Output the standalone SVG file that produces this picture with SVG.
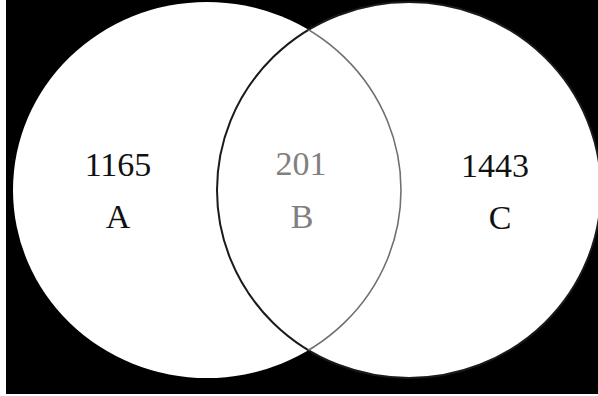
<svg xmlns="http://www.w3.org/2000/svg" width="598" height="396" viewBox="0 0 598 396">
  <style>
    .fill { fill: #ffffff; stroke: none; }
    .lbl { font-family: "Liberation Serif", "Times New Roman", serif; font-size: 34px; text-anchor: middle; }
    .dark { fill: #111111; }
    .gray { fill: #808080; }
  </style>
  <defs>
    <clipPath id="clipC">
      <ellipse cx="409" cy="190" rx="192" ry="188"/>
    </clipPath>
  </defs>
  <rect x="0" y="0" width="598" height="396" fill="#ffffff"/>
  <rect x="6" y="0" width="592" height="394" fill="#000000"/>
  <g id="set-A">
    <ellipse class="fill" cx="207" cy="190" rx="194" ry="188"/>
  </g>
  <g id="set-C">
    <ellipse class="fill" cx="409" cy="190" rx="192" ry="188"/>
  </g>
  <g id="outlines">
    <ellipse cx="409" cy="190" rx="192" ry="188" fill="none" stroke="#1a1a1a" stroke-width="2"/>
    <ellipse cx="207" cy="190" rx="194" ry="188" fill="none" stroke="#707070" stroke-width="1.6" clip-path="url(#clipC)"/>
  </g>
  <g id="label-A">
    <text class="lbl dark" x="118" y="176">1165</text>
    <text class="lbl dark" x="118" y="228">A</text>
  </g>
  <g id="label-B">
    <text class="lbl gray" x="301" y="175">201</text>
    <text class="lbl gray" x="302" y="228">B</text>
  </g>
  <g id="label-C">
    <text class="lbl dark" x="495" y="177">1443</text>
    <text class="lbl dark" x="500" y="229">C</text>
  </g>
</svg>
